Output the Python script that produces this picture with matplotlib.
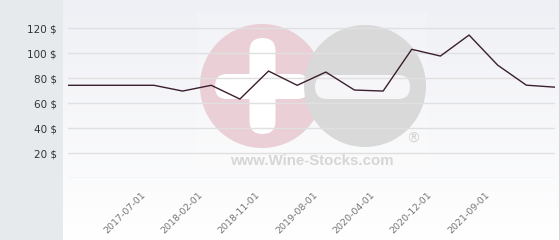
import numpy as np
import matplotlib
matplotlib.use('Agg')
import matplotlib.pyplot as plt
import matplotlib.transforms as mtransforms
from matplotlib.patches import Circle, FancyBboxPatch, Rectangle

# price history (one point per period)
prices = [74.4, 74.4, 74.4, 74.4, 69.8, 74.4, 63.4, 85.8, 74.4, 85.0,
          70.6, 69.8, 103.2, 97.8, 114.6, 90.5, 74.5, 72.9]
tick_idx = [3, 5, 7, 9, 11, 13, 15]
tick_labels = ['2017-07-01', '2018-02-01', '2018-11-01', '2019-08-01',
               '2020-04-01', '2020-12-01', '2021-09-01']
y_ticks = [0, 20, 40, 60, 80, 100, 120]
y_labels = ['', '20 $', '40 $', '60 $', '80 $', '100 $', '120 $']

W, H = 560, 240
fig = plt.figure(figsize=(W / 100, H / 100), dpi=100)
fig.patch.set_facecolor('white')

# background: grey side panel + soft gradient behind the plot
bg = fig.add_axes([0, 0, 1, 1], zorder=0)
bg.set_xlim(0, W)
bg.set_ylim(H, 0)
bg.axis('off')
grad = np.linspace(0, 1, 256).reshape(-1, 1)
top = np.array([239, 240, 245]) / 255
bot = np.array([255, 255, 255]) / 255
img = top + (bot - top) * grad[..., None]
bg.imshow(img, extent=[63, W, H, 0], aspect='auto')
bg.add_patch(Rectangle((0, 0), 63, H, color='#e6eaed', lw=0))
bg.add_patch(Rectangle((558.5, 0), 1.5, H, color='#d4d6da', lw=0))

# watermark
bg.add_patch(Rectangle((197, 12), 230, 166, color='white', alpha=0.2, lw=0))
bg.add_patch(Circle((262, 86), 62, color='#eacfd6', lw=0))
bg.add_patch(FancyBboxPatch((249.5, 38), 26, 96, boxstyle='round,pad=0,rounding_size=13',
                            color='white', lw=0))
bg.add_patch(FancyBboxPatch((215, 74), 94, 25, boxstyle='round,pad=0,rounding_size=12',
                            color='white', lw=0))
bg.add_patch(Circle((365, 86), 61, color='#d9d9d9', lw=0))
bg.add_patch(FancyBboxPatch((315, 75), 95, 24, boxstyle='round,pad=0,rounding_size=12',
                            color='#f6f6f9', lw=0))
bg.text(312, 161, 'www.Wine-Stocks.com', ha='center', va='center', fontsize=10.8,
        fontweight='bold', color='#d6d6d6', family='Liberation Sans')
bg.text(413, 139, '\u00ae', ha='center', va='center', fontsize=10,
        color='#d2d2d2', family='DejaVu Sans')

# main chart
ax = fig.add_axes([68 / W, 61.7 / H, 487 / W, 168.75 / H], zorder=2)
ax.patch.set_alpha(0)
ax.plot(range(len(prices)), prices, color='#3b1f2f', lw=1.0, zorder=3)
ax.set_xlim(0, len(prices) - 1)
ax.set_ylim(0, 135)
ax.set_yticks(y_ticks)
ax.set_yticklabels(y_labels)
ax.yaxis.grid(True, color='#e0e0e0', lw=1)
ax.set_axisbelow(True)
for s in ax.spines.values():
    s.set_visible(False)
ax.tick_params(axis='y', length=0, pad=8, labelsize=7.5, labelcolor='#333333')
ax.set_xticks(tick_idx)
ax.set_xticklabels(tick_labels, rotation=45, ha='right', va='top',
                   rotation_mode='anchor', fontsize=6.8, color='#777777')
ax.tick_params(axis='x', length=0, pad=9)
shift = mtransforms.ScaledTranslation(-13 / 100, 0, fig.dpi_scale_trans)
for lbl in ax.get_xticklabels():
    lbl.set_transform(lbl.get_transform() + shift)

fig.savefig('out.png', dpi=100)
